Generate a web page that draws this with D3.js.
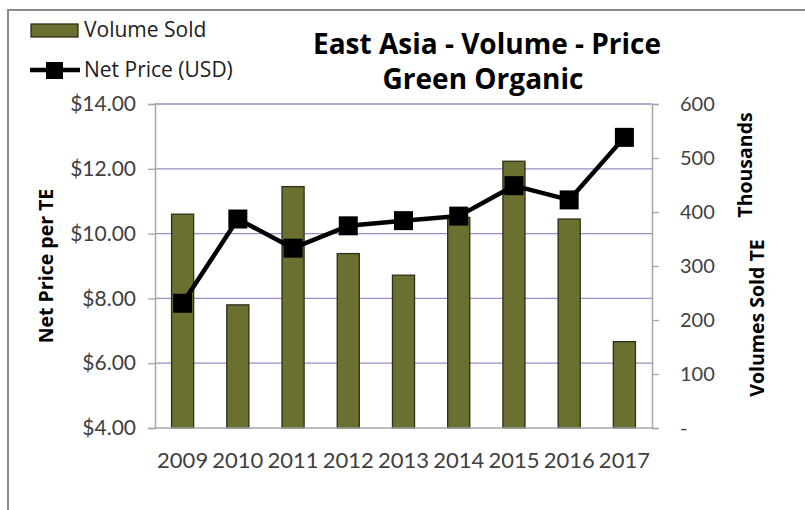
<!DOCTYPE html>
<html>
<head>
<meta charset="utf-8">
<script src="https://cdn.jsdelivr.net/npm/d3@7"></script>
<style>
  body { margin: 0; background: #fff; }
  svg { display: block; font-family: Lato, "Open Sans", sans-serif; }
</style>
</head>
<body>
<div id="chart"></div>
<script>
// data
const years = ["2009", "2010", "2011", "2012", "2013", "2014", "2015", "2016", "2017"];
const volumeSold = [396, 228, 447, 323, 283, 390, 494, 387, 160]; // thousands TE
const netPrice = [7.85, 10.45, 9.55, 10.24, 10.40, 10.54, 11.48, 11.04, 12.97];
const priceTicks = [4, 6, 8, 10, 12, 14];
const volumeTicks = [0, 100, 200, 300, 400, 500, 600];

const width = 805;
const height = 510;
const plot = { left: 155, right: 652, top: 104, bottom: 428 };
const wideFont = "'Open Sans', sans-serif";

const svg = d3.select("#chart").append("svg")
  .attr("width", width)
  .attr("height", height);

// chart frame (only top/left visible in the crop)
svg.append("rect")
  .attr("x", 8).attr("y", 10)
  .attr("width", 820).attr("height", 520)
  .attr("fill", "none")
  .attr("stroke", "#8c8c8c")
  .attr("stroke-width", 2);

const x = d3.scaleBand()
  .domain(years)
  .range([plot.left, plot.right])
  .paddingInner(0.6)
  .paddingOuter(0.3);

const yPrice = d3.scaleLinear().domain([4, 14]).range([plot.bottom, plot.top]);
const yVol = d3.scaleLinear().domain([0, 600]).range([plot.bottom, plot.top]);

// gridlines
svg.append("g")
  .selectAll("line")
  .data(priceTicks.slice(1))
  .join("line")
  .attr("x1", plot.left).attr("x2", plot.right)
  .attr("y1", d => yPrice(d)).attr("y2", d => yPrice(d))
  .attr("stroke", "#9d8bc8")
  .attr("stroke-width", 1.3);

// bars
svg.append("g")
  .selectAll("rect")
  .data(years)
  .join("rect")
  .attr("x", d => x(d))
  .attr("width", x.bandwidth())
  .attr("y", (d, i) => yVol(volumeSold[i]))
  .attr("height", (d, i) => plot.bottom - yVol(volumeSold[i]))
  .attr("fill", "#6b6f2f")
  .attr("stroke", "#2e2e1a")
  .attr("stroke-width", 1.3);

// axes
const leftAxis = svg.append("g")
  .attr("transform", `translate(${plot.left},0)`)
  .call(d3.axisLeft(yPrice).tickValues(priceTicks).tickSize(7).tickPadding(12).tickFormat(d3.format("$.2f")));

const rightAxis = svg.append("g")
  .attr("transform", `translate(${plot.right},0)`)
  .call(d3.axisRight(yVol).tickValues(volumeTicks).tickSize(7).tickPadding(21)
    .tickFormat(d => d === 0 ? "-" : d));

const bottomAxis = svg.append("g")
  .attr("transform", `translate(0,${plot.bottom})`)
  .call(d3.axisBottom(x).tickSize(0).tickPadding(24));

[leftAxis, rightAxis, bottomAxis].forEach(g => {
  g.select(".domain").attr("stroke", "#a6a6a6").attr("stroke-width", 1.5);
  g.selectAll(".tick line").attr("stroke", "#a6a6a6").attr("stroke-width", 1.3);
  g.selectAll("text")
    .attr("fill", "#404040")
    .style("font-size", "21px")
    .style("font-family", "Lato, sans-serif");
});
bottomAxis.select(".domain").attr("d", `M${plot.left},0H${plot.right}`);
bottomAxis.selectAll("text").style("font-size", "22px");
rightAxis.selectAll("text").style("font-size", "20px").attr("dy", "0.3em");

// price line
const line = d3.line()
  .x((d, i) => x(years[i]) + x.bandwidth() / 2)
  .y(d => yPrice(d));

svg.append("path")
  .datum(netPrice)
  .attr("d", line)
  .attr("fill", "none")
  .attr("stroke", "#000")
  .attr("stroke-width", 4.5)
  .attr("stroke-linejoin", "round");

const marker = 19;
svg.append("g")
  .selectAll("rect")
  .data(netPrice)
  .join("rect")
  .attr("x", (d, i) => x(years[i]) + x.bandwidth() / 2 - marker / 2)
  .attr("y", d => yPrice(d) - marker / 2)
  .attr("width", marker)
  .attr("height", marker)
  .attr("fill", "#000");

// axis titles
const axisTitle = (tx, ty, label) => svg.append("text")
  .attr("transform", `translate(${tx},${ty}) rotate(-90)`)
  .attr("text-anchor", "middle")
  .style("font-family", wideFont)
  .style("font-size", "19.5px")
  .style("font-weight", "bold")
  .text(label);

axisTitle(53, 266, "Net Price per TE");
axisTitle(752, 165, "Thousands");
axisTitle(764, 318, "Volumes Sold TE");

// title
const title = svg.append("text")
  .attr("text-anchor", "middle")
  .style("font-family", wideFont)
  .style("font-size", "28px")
  .style("font-weight", "bold");
title.append("tspan").attr("x", 487).attr("y", 54).text("East Asia - Volume - Price");
title.append("tspan").attr("x", 483).attr("y", 89).text("Green Organic");

// legend
const legend = svg.append("g")
  .style("font-family", wideFont);
legend.append("rect")
  .attr("x", 31).attr("y", 24)
  .attr("width", 47).attr("height", 13)
  .attr("fill", "#6b6f2f")
  .attr("stroke", "#2e2e1a")
  .attr("stroke-width", 1.3);
legend.append("text")
  .attr("x", 84).attr("y", 37)
  .attr("fill", "#202020")
  .style("font-size", "21px")
  .text("Volume Sold");
legend.append("line")
  .attr("x1", 30).attr("x2", 80)
  .attr("y1", 70).attr("y2", 70)
  .attr("stroke", "#000")
  .attr("stroke-width", 4.5);
legend.append("rect")
  .attr("x", 46).attr("y", 62)
  .attr("width", 17).attr("height", 17)
  .attr("fill", "#000");
legend.append("text")
  .attr("x", 84).attr("y", 77)
  .attr("fill", "#202020")
  .style("font-size", "21px")
  .text("Net Price (USD)");
</script>
</body>
</html>
